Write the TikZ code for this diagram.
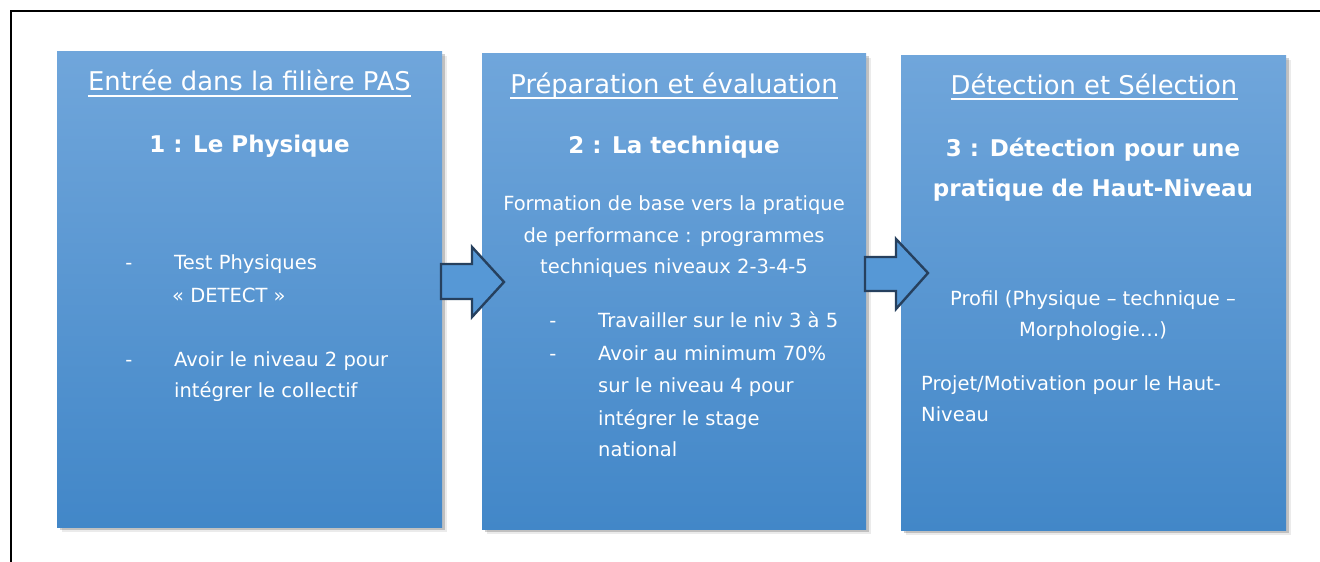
\documentclass[tikz,border=0pt]{standalone}
\usepackage{fontspec}
\setmainfont{DejaVu Sans}
\usetikzlibrary{calc,shadows}
\definecolor{boxtop}{RGB}{112,166,219}
\definecolor{boxbot}{RGB}{66,135,200}
\definecolor{arrfill}{RGB}{86,152,214}
\definecolor{arrline}{RGB}{38,64,94}
\begin{document}
\begin{tikzpicture}[x=1pt,y=-1pt,
  panel/.style={draw=none, top color=boxtop, bottom color=boxbot, inner sep=0,
    general shadow={shadow xshift=5pt, shadow yshift=-5pt, fill=black, opacity=0.08},
    general shadow={shadow xshift=3pt, shadow yshift=-3pt, fill=black, opacity=0.18}},
  hd/.style={font=\fontsize{25.8}{30}\selectfont, text=white, inner sep=0, anchor=base},
  ttl/.style={font=\bfseries\fontsize{23}{28}\selectfont, text=white, inner sep=0, anchor=base},
  bd/.style={font=\fontsize{19.5}{23}\selectfont, text=white, inner sep=0, anchor=base},
  bdl/.style={bd, anchor=base west},
  uline/.style={white, line width=1.8pt},
  blockarrow/.style={fill=arrfill, draw=arrline, line width=2.4pt, line join=miter}]
\useasboundingbox (0,0) rectangle (1320,562);
\fill[white] (0,0) rectangle (1320,562);
\draw[line width=2pt] (10.5,570) -- (10.5,11) -- (1325,11);

% panels
\node[panel, minimum width=385pt, minimum height=476pt] (p1) at (249.5,289) {};
\node[panel, minimum width=384pt, minimum height=476pt] (p2) at (674,291) {};
\node[panel, minimum width=385pt, minimum height=475pt] (p3) at (1093.5,292.5) {};

% arrows
\draw[blockarrow] (441,264) -- (472,264) -- (472,247) -- (504,282) -- (472,317) -- (472,299) -- (441,299) -- cycle;
\draw[blockarrow] (865,257) -- (896,257) -- (896,239) -- (928,273) -- (896,309) -- (896,291) -- (865,291) -- cycle;

% panel 1
\node[hd] (h1) at (249.5,90.5) {Entrée dans la filière PAS};
\draw[uline] ([yshift=-5.5pt]h1.base west) -- ([yshift=-5.5pt]h1.base east);
\node[ttl] (s1) at (249.5,152) {1 : Le Physique};
\node[bd] (d11) at (129,269) {-};
\node[bdl] (a11) at (174,269) {Test Physiques};
\node[bdl] (a12) at (172,302) {« DETECT »};
\node[bd] (d12) at (129,366.5) {-};
\node[bdl] (a13) at (174,366.5) {Avoir le niveau 2 pour};
\node[bdl] (a14) at (174,397) {intégrer le collectif};

% panel 2
\node[hd] (h2) at (674,93) {Préparation et évaluation};
\draw[uline] ([yshift=-5pt]h2.base west) -- ([yshift=-5pt]h2.base east);
\node[ttl] (s2) at (674,153) {2 : La technique};
\node[bd] (b21) at (674,210) {Formation de base vers la pratique};
\node[bd] (b22) at (674,242) {de performance : programmes};
\node[bd] (b23) at (674,273.5) {techniques niveaux 2-3-4-5};
\node[bd] (d21) at (553,327.5) {-};
\node[bdl] (a21) at (598,327.5) {Travailler sur le niv 3 à 5};
\node[bd] (d22) at (553,360) {-};
\node[bdl] (a22) at (598,360) {Avoir au minimum 70\%};
\node[bdl] (a23) at (598,392.5) {sur le niveau 4 pour};
\node[bdl] (a24) at (598,425) {intégrer le stage};
\node[bdl] (a25) at (598,456) {national};

% panel 3
\node[hd] (h3) at (1094,94) {Détection et Sélection};
\draw[uline] ([yshift=-5pt]h3.base west) -- ([yshift=-5pt]h3.base east);
\node[ttl] (s31) at (1093,156) {3 : Détection pour une};
\node[ttl] (s32) at (1093,196) {pratique de Haut-Niveau};
\node[bd] (b31) at (1093,305) {Profil (Physique – technique –};
\node[bd] (b32) at (1093,336.5) {Morphologie…)};
\node[bdl] (b33) at (921,390.5) {Projet/Motivation pour le Haut-};
\node[bdl] (b34) at (921,421.5) {Niveau};
\end{tikzpicture}
\end{document}
